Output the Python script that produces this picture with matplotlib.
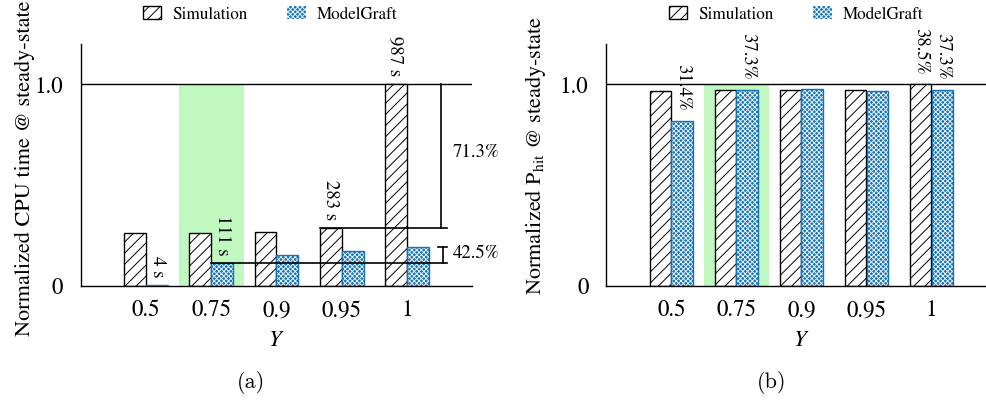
import numpy as np
import matplotlib
matplotlib.use("Agg")
import matplotlib.pyplot as plt
from matplotlib.patches import Patch

plt.rcParams['font.family'] = ['STIXGeneral', 'Liberation Serif', 'DejaVu Serif']
plt.rcParams['mathtext.fontset'] = 'stix'
plt.rcParams['hatch.linewidth'] = 0.7

# data
gammas = ['0.5', '0.75', '0.9', '0.95', '1']
cpu_sim = [0.264, 0.264, 0.266, 0.287, 1.0]
cpu_mg = [0.004, 0.112, 0.152, 0.172, 0.195]
cpu_sim_labels = {3: '283 s', 4: '987 s'}
cpu_mg_labels = {0: '4 s', 1: '111 s'}
phit_sim = [0.965, 0.972, 0.972, 0.972, 1.0]
phit_mg = [0.817, 0.972, 0.975, 0.965, 0.972]
phit_sim_labels = {4: '38.5%'}
phit_mg_labels = {0: '31.4%', 1: '37.3%', 4: '37.3%'}

blue = '#1372b8'
green = '#c0f8c0'
bw = 0.337
fs_tick = 16.5
fs_ann = 13.5

fig = plt.figure(figsize=(9.87, 4.08), dpi=100)
ax1 = fig.add_axes([81/987, 1-286/408, 391/987, 242/408])
ax2 = fig.add_axes([606.5/987, 1-286/408, 390/987, 242/408])

def draw(ax, sim, mg, sim_lab, mg_lab, off):
    x = np.arange(len(gammas))
    ax.axvspan(0.5, 1.5, ymin=0, ymax=1/1.2, color=green, lw=0, zorder=0)
    ax.axhline(1.0, color='black', lw=1, zorder=1)
    ax.bar(x - bw/2, sim, bw, facecolor='white', edgecolor='black', hatch='///', lw=1, zorder=2)
    ax.bar(x + bw/2, mg, bw, facecolor=blue, edgecolor='#e8f2fa', hatch='xxxxxxx', lw=0, zorder=2)
    ax.bar(x + bw/2, mg, bw, fill=False, edgecolor=blue, lw=1, zorder=3)
    for i, t in sim_lab.items():
        ax.text(x[i] - bw/2, sim[i] + off, t, rotation=270, ha='center', va='bottom', fontsize=fs_ann)
    for i, t in mg_lab.items():
        ax.text(x[i] + bw/2, mg[i] + off, t, rotation=270, ha='center', va='bottom', fontsize=fs_ann)
    ax.set_xlim(-1, 5)
    ax.set_ylim(0, 1.2)
    ax.set_xticks(x)
    ax.set_xticklabels(gammas, fontsize=fs_tick)
    ax.set_yticks([0, 1.0])
    ax.set_yticklabels(['0', '1.0'], fontsize=fs_tick)
    ax.tick_params(length=0, pad=10)
    ax.tick_params(axis='y', pad=13)
    for s in ['top', 'right']:
        ax.spines[s].set_visible(False)
    ax.spines['left'].set_linewidth(1)
    ax.spines['bottom'].set_linewidth(1)
    ax.set_xlabel('$Y$', fontsize=fs_tick, labelpad=6)

draw(ax1, cpu_sim, cpu_mg, cpu_sim_labels, cpu_mg_labels, 0.04)
draw(ax2, phit_sim, phit_mg, phit_sim_labels, phit_mg_labels, 0.05)

ax1.set_ylabel('Normalized CPU time @ steady-state', fontsize=16)
ax2.set_ylabel(r'Normalized P$_{\mathrm{hit}}$ @ steady-state', fontsize=16)
ax1.yaxis.set_label_coords(-0.117, 0.485)
ax2.yaxis.set_label_coords(-0.15, 0.54)

# brackets on the CPU time panel
xe = 4.62
ax1.plot([3 - bw, xe], [cpu_sim[3], cpu_sim[3]], color='black', lw=1.2, zorder=4)
ax1.plot([4.53, 4.53], [cpu_sim[3], cpu_sim[4]], color='black', lw=1.2, zorder=4)
ax1.plot([1, xe], [cpu_mg[1], cpu_mg[1]], color='black', lw=1.2, zorder=4)
ax1.plot([4.48, xe], [cpu_mg[4], cpu_mg[4]], color='black', lw=1.2, zorder=4)
ax1.plot([4.56, 4.56], [cpu_mg[1], cpu_mg[4]], color='black', lw=1.2, zorder=4)
ax1.text(4.71, (cpu_sim[3] + cpu_sim[4]) / 2 + 0.02, '71.3%', fontsize=fs_ann, va='center', ha='left')
ax1.text(4.71, (cpu_mg[1] + cpu_mg[4]) / 2 + 0.01, '42.5%', fontsize=fs_ann, va='center', ha='left')

handles = [Patch(facecolor='white', edgecolor='black', hatch='///', lw=1, label='Simulation'),
           Patch(facecolor=blue, edgecolor='#e8f2fa', hatch='xxxxxxx', lw=0, label='ModelGraft')]
for xc in [0.2736, 0.8065]:
    fig.legend(handles=handles, loc='center', bbox_to_anchor=(xc, 0.965), ncol=2, frameon=False,
               fontsize=12.3, handlelength=1.1, handleheight=0.8, handletextpad=0.65,
               columnspacing=2.3)

fig.text(251/987, 1-383/408, '(a)', fontsize=16, family='cmr10', ha='center', va='center')
fig.text(772/987, 1-383/408, '(b)', fontsize=16, family='cmr10', ha='center', va='center')

fig.savefig('out.png', dpi=100)
